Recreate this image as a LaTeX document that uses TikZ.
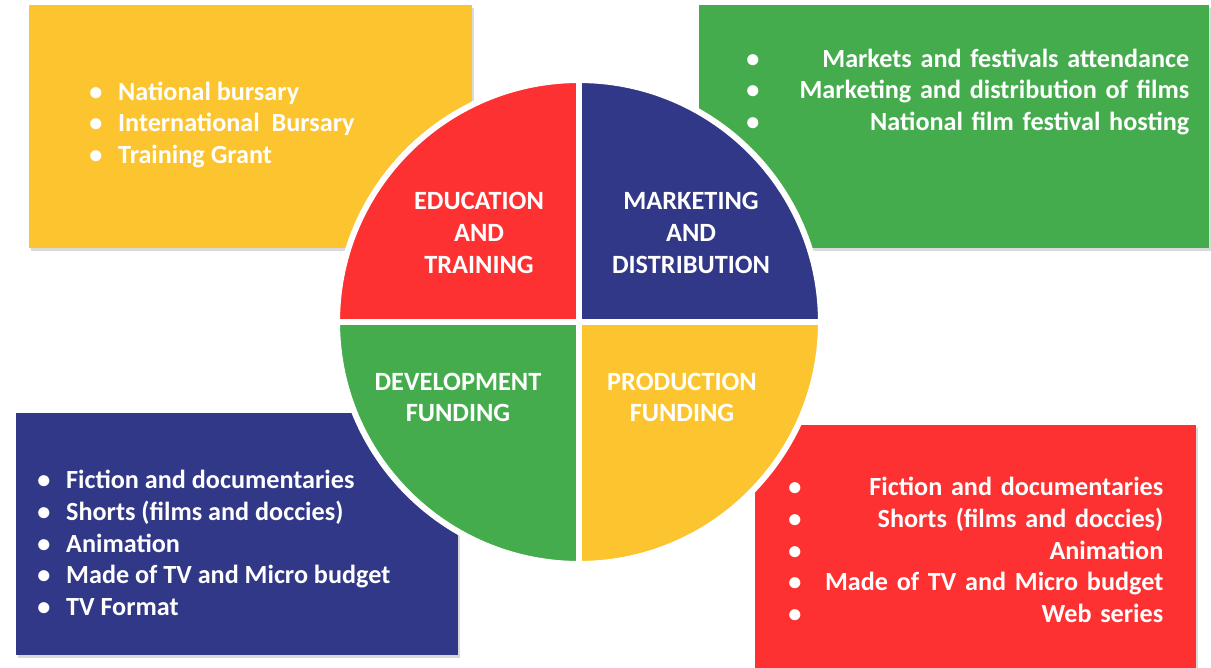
\documentclass[tikz,border=0pt]{standalone}
\usepackage{fontspec}
\setmainfont{Carlito}
\usetikzlibrary{shadows}

\definecolor{gold}{HTML}{FCC42E}
\definecolor{leaf}{HTML}{45AC4E}
\definecolor{navy}{HTML}{323888}
\definecolor{tomato}{HTML}{FD3131}

\newcommand{\itembul}{\textbullet\hspace{9pt}}

\begin{document}
\begin{tikzpicture}[x=0.02cm,y=0.02cm,
	infobox/.style={rectangle, draw=none, inner sep=0pt,
		drop shadow={shadow xshift=1pt, shadow yshift=-1.5pt, opacity=0.3}},
	quad/.style={draw=white, line width=3.4pt},
	sector/.style={text=white, font=\bfseries\fontsize{15}{18.1}\selectfont, align=center},
	itemlist/.style={text=white, font=\bfseries\fontsize{14.9}{18.1}\selectfont, align=left, inner sep=0pt, anchor=west}]
			
			\useasboundingbox (0,0) rectangle (1211,667);
			
			% boxes behind the circle
			\node[infobox, fill=gold, minimum width=8.86cm, minimum height=4.86cm] 
			(EduBox) at (250.5,540.5) {};
			
			\node[infobox, fill=leaf, minimum width=10.2cm, minimum height=4.86cm] 
			(MktBox) at (954,540.5) {};
			
			\node[infobox, fill=navy, minimum width=8.84cm, minimum height=4.84cm] 
			(DevBox) at (237,133) {};
			
			\node[infobox, fill=tomato, minimum width=8.82cm, minimum height=5.04cm] 
			(ProdBox) at (975.5,116) {};
			
			% lists
			\node[itemlist] 
			(EduList) at (89,542) {\itembul National bursary\\ \itembul International\ \ Bursary\\ \itembul Training Grant};
			
			\node[itemlist, text width=8.86cm] 
			(MktList) at (746,575) {\textbullet\hfill Markets and festivals attendance\\ \textbullet\hfill Marketing and distribution of films\\ \textbullet\hfill National film festival hosting};
			
			\node[itemlist] 
			(DevList) at (37,124) {\itembul Fiction and documentaries\\ \itembul Shorts (films and doccies)\\ \itembul Animation\\ \itembul Made of TV and Micro budget\\ \itembul TV Format};
			
			\node[itemlist, text width=7.5cm] 
			(ProdList) at (788,117) {\textbullet\hfill Fiction and documentaries\\ \textbullet\hfill Shorts (films and doccies)\\ \textbullet\hfill Animation\\ \textbullet\hfill Made of TV and Micro budget\\ \textbullet\hfill Web series};
			
			% the circle
			\coordinate (Hub) at (579,345);
			
			\filldraw[quad, fill=tomato] (Hub) -- ++(-4.84cm,0) arc[start angle=180, end angle=90, radius=4.84cm] -- cycle;
			\filldraw[quad, fill=navy] (Hub) -- ++(0,4.84cm) arc[start angle=90, end angle=0, radius=4.84cm] -- cycle;
			\filldraw[quad, fill=leaf] (Hub) -- ++(0,-4.84cm) arc[start angle=270, end angle=180, radius=4.84cm] -- cycle;
			\filldraw[quad, fill=gold] (Hub) -- ++(4.84cm,0) arc[start angle=0, end angle=-90, radius=4.84cm] -- cycle;
			
			\node[sector] 
			(Edu) at (479,434) {EDUCATION\\AND\\TRAINING};
			
			\node[sector] 
			(Mkt) at (691,434) {MARKETING\\AND\\DISTRIBUTION};
			
			\node[sector] 
			(Dev) at (458,269.5) {DEVELOPMENT\\FUNDING};
			
			\node[sector] 
			(Prod) at (682,269.5) {PRODUCTION\\FUNDING};
			
		\end{tikzpicture}
\end{document}
